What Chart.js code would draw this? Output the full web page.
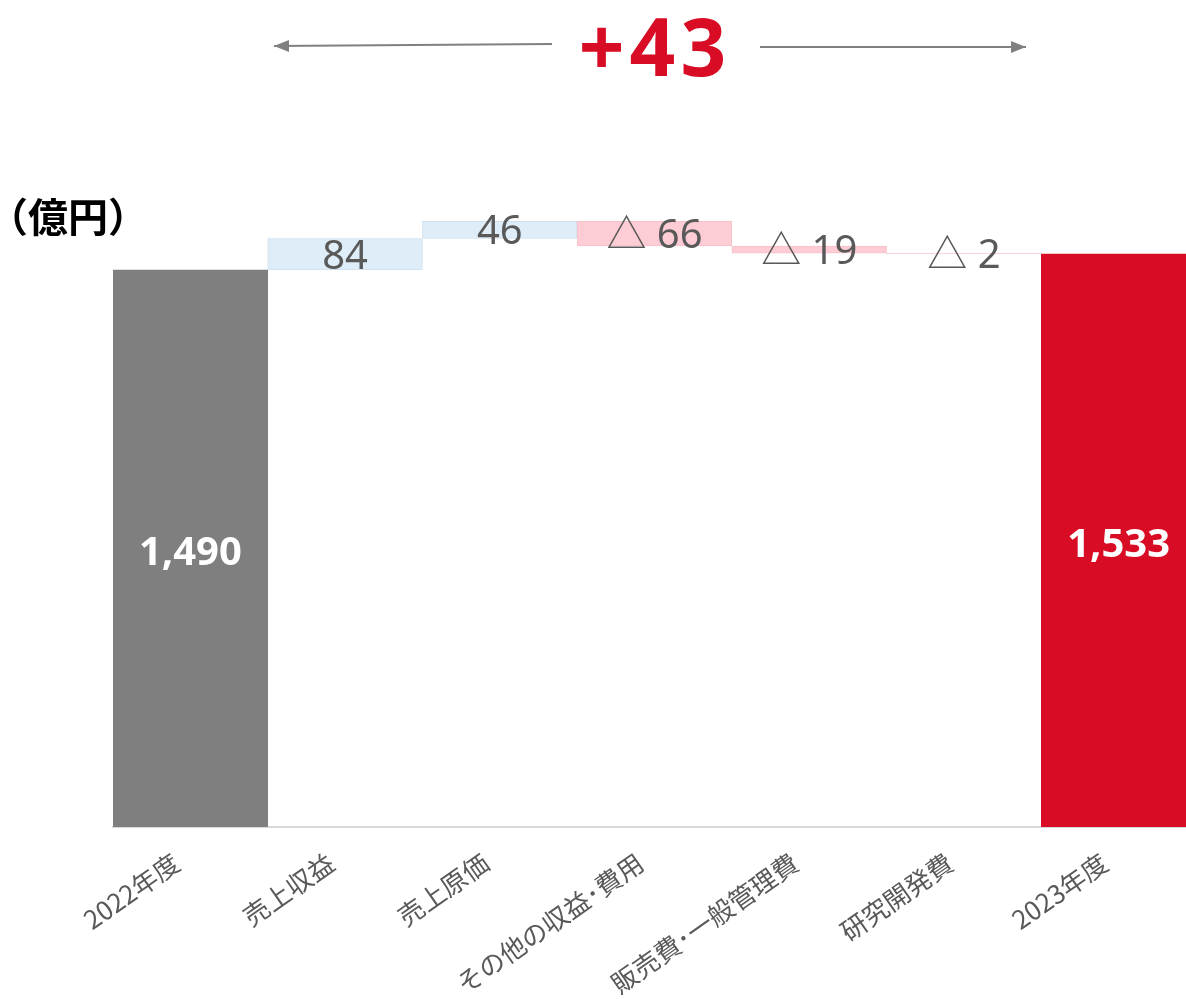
<!DOCTYPE html>
<html lang="ja">
<head>
<meta charset="UTF-8">
<title>営業利益 増減要因</title>
<script src="https://cdn.jsdelivr.net/npm/chart.js"></script>
<style>
  html, body { margin: 0; padding: 0; background: #fff; overflow: hidden; }
  #wf { position: absolute; left: 0; top: 0; }
</style>
</head>
<body>
<canvas id="wf" width="1196" height="999"></canvas>

<script>
// data (億円)
const categories = ['2022年度', '売上収益', '売上原価', 'その他の収益･費用', '販売費･一般管理費', '研究開発費', '2023年度'];
const startValue = 1490;
const deltas = [84, 46, -66, -19, -2];
const endValue = 1533;
const totalChange = '+43';
const unitLabel = '（億円）';

const GRAY = '#7f7f7f';
const RED = '#d80c24';
const UP = '#deedf7';
const DOWN = '#fdccd4';

// floating ranges for the waterfall
const ranges = [[0, startValue]];
let running = startValue;
deltas.forEach(d => {
    ranges.push([running, running + d]);
    running += d;
});
ranges.push([0, endValue]);

const fills = [GRAY].concat(deltas.map(d => d >= 0 ? UP : DOWN), [RED]);
const borders = [GRAY].concat(deltas.map((d, i) => i === deltas.length - 1 ? '#d9d9d9' : (d >= 0 ? '#cfe0ee' : '#f7c1ca')), [RED]);

const labelFont = '"Noto Sans", "Noto Sans CJK JP", sans-serif';

const overlay = {
    id: 'overlay',
    afterDatasetsDraw(chart) {
        const ctx = chart.ctx;
        const meta = chart.getDatasetMeta(0);
        ctx.save();
        ctx.textAlign = 'center';
        ctx.textBaseline = 'middle';
        meta.data.forEach((bar, i) => {
            const mid = (bar.y + bar.base) / 2;
            if (i === 0 || i === meta.data.length - 1) {
                const v = i === 0 ? startValue : endValue;
                ctx.fillStyle = '#ffffff';
                ctx.font = 'bold 40px ' + labelFont;
                ctx.fillText(v.toLocaleString('en-US'), bar.x, mid + 5);
            } else {
                const d = deltas[i - 1];
                ctx.fillStyle = '#595959';
                ctx.font = '40px ' + labelFont;
                ctx.fillText(d >= 0 ? String(d) : '△ ' + Math.abs(d), bar.x, mid + 3);
            }
        });
        ctx.restore();
    },
    afterDraw(chart) {
        const ctx = chart.ctx;
        ctx.save();
        // total change headline
        ctx.fillStyle = RED;
        ctx.font = 'bold 80px "Noto Sans", sans-serif';
        ctx.letterSpacing = '5px';
        ctx.textAlign = 'center';
        ctx.textBaseline = 'alphabetic';
        ctx.fillText(totalChange, 655, 76);
        ctx.letterSpacing = '0px';

        // arrows
        ctx.strokeStyle = '#808080';
        ctx.fillStyle = '#808080';
        ctx.lineWidth = 2;
        const arrow = (x1, y1, x2, y2) => {
            ctx.beginPath();
            ctx.moveTo(x1, y1);
            ctx.lineTo(x2, y2);
            ctx.stroke();
            const a = Math.atan2(y2 - y1, x2 - x1);
            ctx.beginPath();
            ctx.moveTo(x2, y2);
            ctx.lineTo(x2 - 15 * Math.cos(a) + 6 * Math.sin(a), y2 - 15 * Math.sin(a) - 6 * Math.cos(a));
            ctx.lineTo(x2 - 15 * Math.cos(a) - 6 * Math.sin(a), y2 - 15 * Math.sin(a) + 6 * Math.cos(a));
            ctx.closePath();
            ctx.fill();
        };
        arrow(552, 44, 274, 46);
        arrow(760, 47, 1026, 47);

        // unit
        ctx.fillStyle = '#000000';
        ctx.font = 'bold 40px "Noto Sans CJK JP", sans-serif';
        ctx.textAlign = 'left';
        ctx.textBaseline = 'middle';
        ctx.fillText(unitLabel, -12, 217);
        ctx.restore();
    }
};

new Chart(document.getElementById('wf'), {
    type: 'bar',
    data: {
        labels: categories,
        datasets: [{
            data: ranges,
            backgroundColor: fills,
            borderColor: borders,
            borderWidth: 1,
            borderSkipped: false,
            categoryPercentage: 1.0,
            barPercentage: 1.0
        }]
    },
    options: {
        responsive: false,
        animation: false,
        devicePixelRatio: 1,
        layout: { padding: { left: 113, top: 154, right: 0, bottom: 0 } },
        plugins: {
            legend: { display: false },
            tooltip: { enabled: false }
        },
        scales: {
            y: {
                display: false,
                min: 0,
                max: 1800
            },
            x: {
                grid: { display: false, drawTicks: false },
                border: { display: true, color: '#d9d9d9', width: 2 },
                ticks: {
                    color: '#595959',
                    font: { family: '"Noto Sans CJK JP", sans-serif', size: 26 },
                    minRotation: 35,
                    maxRotation: 35,
                    autoSkip: false,
                    padding: 20,
                    labelOffset: -14
                },
                afterFit(scale) {
                    scale.height = 172;
                    scale.paddingLeft = 0;
                    scale.paddingRight = 0;
                }
            }
        }
    },
    plugins: [overlay]
});
</script>
</body>
</html>
